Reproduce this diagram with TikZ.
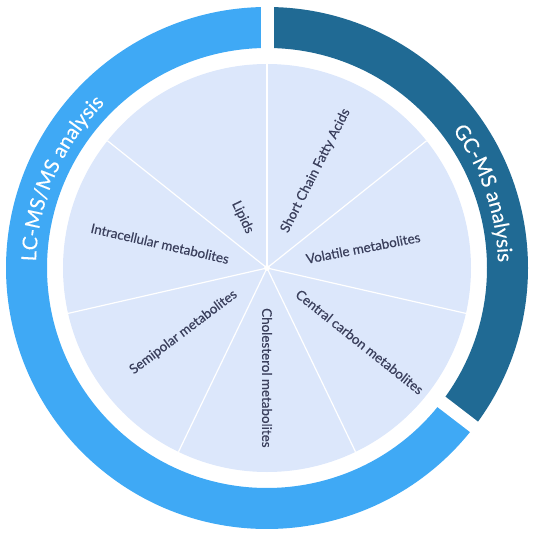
\documentclass[tikz,border=0pt]{standalone}
\usepackage{fontspec}
\setmainfont{Lato}
\newfontfamily\labfont[FakeBold=0.35]{Lato}
\newfontfamily\ringfont[FakeBold=0.25]{Lato}
\usetikzlibrary{decorations.text}
\definecolor{piefill}{HTML}{DCE7FB}
\definecolor{lcblue}{HTML}{3FA9F5}
\definecolor{gcblue}{HTML}{206A94}
\definecolor{txtcol}{HTML}{3A3F5C}
\begin{document}
\begin{tikzpicture}[x=1pt,y=1pt,
  lab/.style={font=\labfont\fontsize{13.4}{15}\selectfont, text=txtcol, inner sep=0pt},
  spoke/.style={draw=white, line width=1.2pt},
  ringarc/.style={line width=41pt},
  gapline/.style={draw=white, line width=13pt},
  ringtext/.style={decorate, decoration={text along path, text align=center, text color=white,
     text={|\ringfont\fontsize{20.5}{24}\selectfont|#1}}}
]
\useasboundingbox (-267,-265) rectangle (268,268);
\coordinate (c) at (0,0);
% rings
\draw[ringarc, lcblue] (-37.5:240.5) arc[start angle=-37.5, end angle=-270, radius=240.5];
\draw[ringarc, gcblue] (90:240.5) arc[start angle=90, end angle=-37.5, radius=240.5];
\coordinate (g1a) at (90:214);
\coordinate (g1b) at (90:266);
\coordinate (g2a) at (-37.5:214);
\coordinate (g2b) at (-37.5:266);
\draw[gapline] (g1a) -- (g1b);
\draw[gapline] (g2a) -- (g2b);
% pie
\fill[piefill] (c) circle[radius=204];
\foreach \a in {90,38.571,-12.857,-64.286,-115.714,-167.143,-218.571}
  \draw[spoke] (c) -- (\a:204);
\fill[white] (c) circle[radius=3];
% labels
\node[lab, anchor=west, rotate=63] (scfa) at (64.286:40) {Short Chain Fatty Acids};
\node[lab, anchor=west, rotate=11] (vol) at (12.857:40) {Volatile metabolites};
\node[lab, anchor=west, rotate=-38.571] (ccm) at (-38.571:39) {Central carbon metabolites};
\node[lab, anchor=west, rotate=-90] (chol) at (-90:40) {Cholesterol metabolites};
\node[lab, anchor=east, rotate=37] (semi) at (-141.429:40) {Semipolar metabolites};
\node[lab, anchor=east, rotate=-12.857] (intra) at (167.143:39) {Intracellular metabolites};
\node[lab, anchor=east, rotate=-64.286] (lip) at (115.714:39) {Lipids};
% ring texts
\path[ringtext={GC-MS analysis}] (60:231) arc[start angle=60, end angle=-22, radius=231];
\path[ringtext={LC-MS/MS analysis}] (200:231) arc[start angle=200, end angle=113, radius=231];
\end{tikzpicture}
\end{document}
